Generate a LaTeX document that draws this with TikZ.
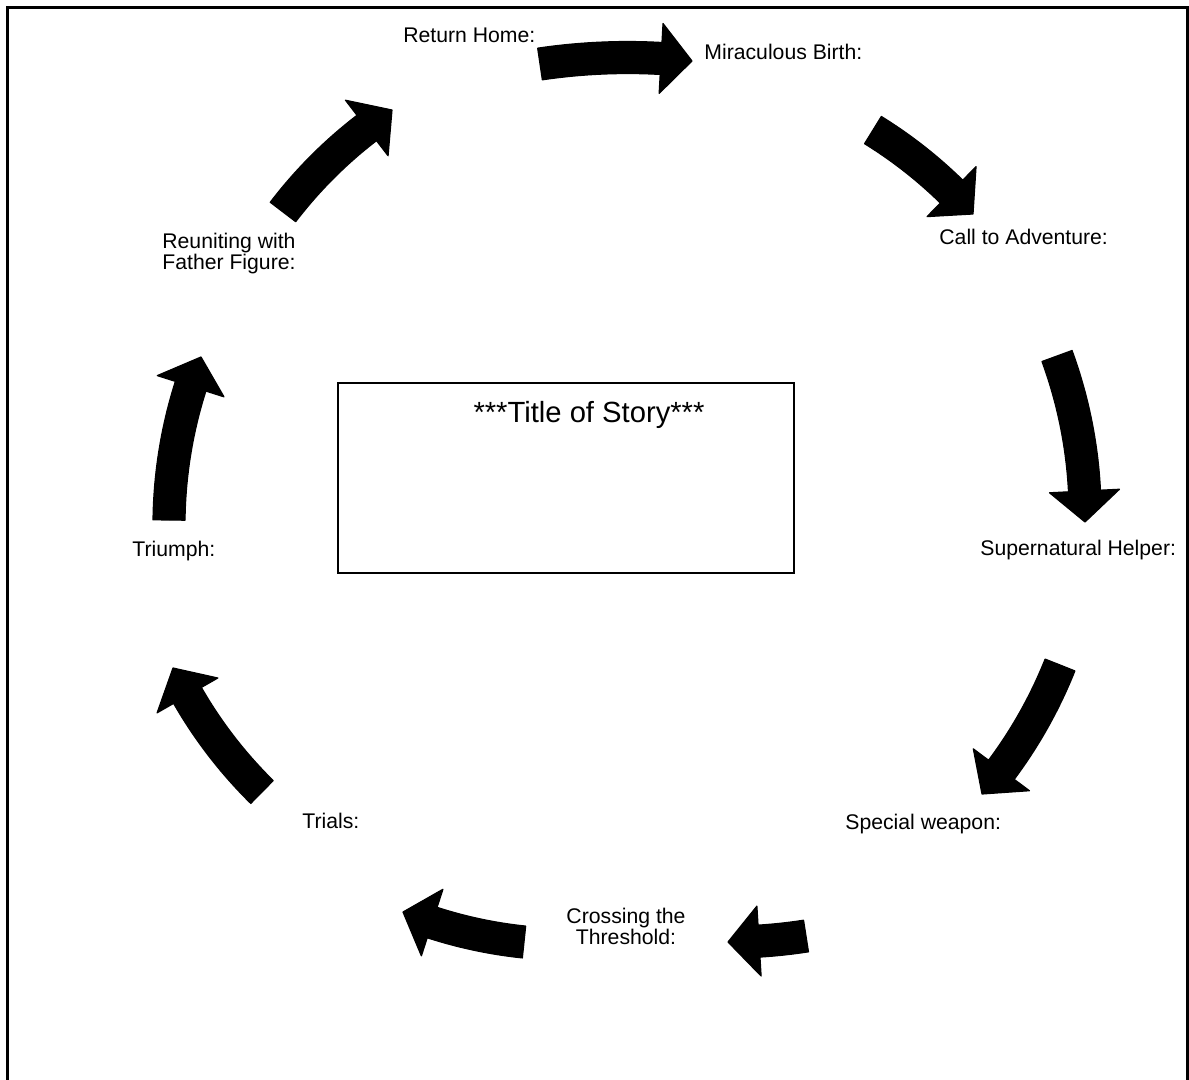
\documentclass[tikz,border=0pt]{standalone}
\usepackage{fontspec}
\setmainfont{Liberation Sans}

\tikzset{
  stage/.style={font=\fontsize{10.6}{10.5}\selectfont, inner sep=0pt},
  cyclefill/.style={fill=black, draw=black, line join=round, line width=0.6pt}
}

% curved block arrow: start (#1,#2), tip (#3,#4), radius #5
\newcommand{\cyclearrow}[5]{%
  \pgfmathsetmacro{\adx}{#3-#1}%
  \pgfmathsetmacro{\ady}{#4-#2}%
  \pgfmathsetmacro{\alen}{veclen(\adx,\ady)}%
  \pgfmathsetmacro{\ahalf}{asin(\alen/(2*#5))}%
  \pgfmathsetmacro{\ah}{#5*cos(\ahalf)}%
  \pgfmathsetmacro{\acx}{(#1+#3)/2-\ady/\alen*\ah}%
  \pgfmathsetmacro{\acy}{(#2+#4)/2+\adx/\alen*\ah}%
  \pgfmathsetmacro{\aone}{atan2(#2-\acy,#1-\acx)}%
  \pgfmathsetmacro{\atip}{\aone+2*\ahalf}%
  \pgfmathsetmacro{\abase}{\atip-31/#5*180/pi}%
  \fill[cyclefill] plot[domain=\aone:\abase,samples=24] ({\acx+(#5+16)*cos(\x)},{\acy+(#5+16)*sin(\x)})
    -- ({\acx+(#5+35)*cos(\abase)},{\acy+(#5+35)*sin(\abase)})
    -- (#3,#4)
    -- ({\acx+(#5-35)*cos(\abase)},{\acy+(#5-35)*sin(\abase)})
    -- plot[domain=\abase:\aone,samples=24] ({\acx+(#5-16)*cos(\x)},{\acy+(#5-16)*sin(\x)})
    -- cycle;
}

\begin{document}
\begin{tikzpicture}[x=0.5pt,y=-0.5pt]
\useasboundingbox (0,0) rectangle (1189,1080);
\draw[line width=1.5pt] (7,1100) -- (7,8) -- (1187,8) -- (1187,1100);

% story box
\node[draw, line width=1pt, minimum width=228pt, minimum height=95pt, inner sep=0pt] (storybox) at (566,478) {};
\node[stage, font=\fontsize{14.6}{16}\selectfont, anchor=base] (title) at (589,423) {***Title of Story***};

% stages
\node[stage, anchor=base west] (home) at (403,43) {Return Home:};
\node[stage, anchor=base west] (birth) at (704,60) {Miraculous Birth:};
\node[stage, anchor=base west] (call) at (939,245) {Call to Adventure:};
\node[stage, anchor=base west] (helper) at (980,555) {Supernatural Helper:};
\node[stage, anchor=base west] (weapon) at (845,829) {Special weapon:};
\node[stage, align=center] (crossing) at (626,926) {Crossing the\\Threshold:};
\node[stage, anchor=base west] (trials) at (302,828) {Trials:};
\node[stage, anchor=base west] (triumph) at (132,556) {Triumph:};
\node[stage, align=left, anchor=west] (reunite) at (162,254) {Reuniting with\\Father Figure:};

% arrows
\cyclearrow{540}{64}{692}{61}{600}
\cyclearrow{873}{130}{973}{214}{450}
\cyclearrow{1057}{356}{1085}{522}{460}
\cyclearrow{1060}{665}{982}{794}{460}
\cyclearrow{806}{936}{728}{942}{500}
\cyclearrow{524}{942}{403}{912}{450}
\cyclearrow{262}{792}{173}{668}{450}
\cyclearrow{169}{520}{201}{357}{460}
\cyclearrow{283}{212}{392}{110}{450}
\end{tikzpicture}
\end{document}
